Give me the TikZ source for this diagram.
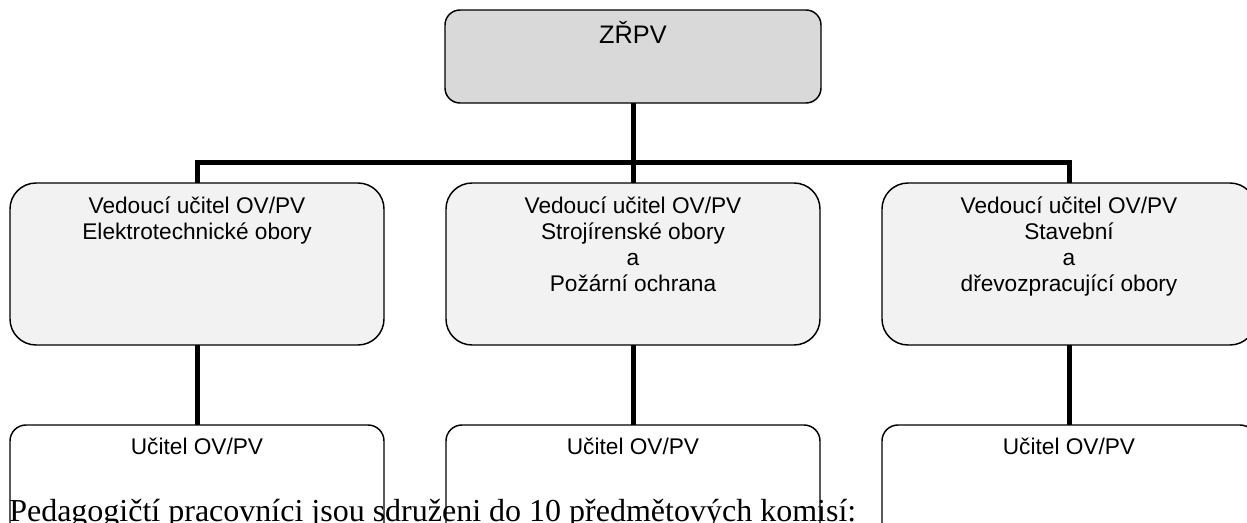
\documentclass[tikz,border=0pt]{standalone}
\usepackage{fontspec}
\setmainfont{Liberation Serif}
\setsansfont{Liberation Sans}
\begin{document}
\begin{tikzpicture}[x=0.75pt,y=-0.75pt,
  boxbase/.style={draw=black,line width=1.1pt,rectangle,inner sep=0pt,outer sep=0pt},
  topbox/.style={boxbase,fill=topgray,minimum width=282pt,minimum height=69.75pt,rounded corners=11.25pt},
  midbox/.style={boxbase,fill=midgray,minimum width=280.5pt,minimum height=121.5pt,rounded corners=19.5pt},
  botbox/.style={boxbase,fill=white,minimum width=280.5pt,minimum height=90pt,rounded corners=12pt},
  lbl/.style={anchor=base,inner sep=0pt,font=\sffamily\fontsize{17pt}{19.7pt}\selectfont},
  conn/.style={line width=3.75pt,black,line join=miter,line cap=rect}
]
\definecolor{topgray}{HTML}{D9D9D9}
\definecolor{midgray}{HTML}{F2F2F2}
\path[use as bounding box,clip] (0,0) rectangle (1247,522);
\fill[white] (0,0) rectangle (1247,522);

% boxes
\node[topbox] (top) at (633,56.5) {};
\node[midbox] (m1) at (197,264) {};
\node[midbox] (m2) at (633,264) {};
\node[midbox] (m3) at (1069,264) {};
\node[botbox] (b1) at (197,485) {};
\node[botbox] (b2) at (633,485) {};
\node[botbox] (b3) at (1069,485) {};
\coordinate (hub) at (633,162);

% connectors
\draw[conn,line cap=butt] (top.south) -- (m2.north);
\draw[conn,line cap=butt] (m1.north) |- (hub) -| (m3.north);
\draw[conn,line cap=butt] (m1.south) -- (b1.north);
\draw[conn,line cap=butt] (m2.south) -- (b2.north);
\draw[conn,line cap=butt] (m3.south) -- (b3.north);

% texts
\node[lbl,font=\sffamily\fontsize{19pt}{22pt}\selectfont] (ttop) at (633,43) {ZŘPV};
\node[lbl] (t1) at (197,213) {\begin{tabular}[t]{@{}c@{}}Vedoucí učitel OV/PV\\Elektrotechnické obory\end{tabular}};
\node[lbl] (t2) at (633,213) {\begin{tabular}[t]{@{}c@{}}Vedoucí učitel OV/PV\\Strojírenské obory\\a\\Požární ochrana\end{tabular}};
\node[lbl] (t3) at (1069,213) {\begin{tabular}[t]{@{}c@{}}Vedoucí učitel OV/PV\\Stavební\\a\\dřevozpracující obory\end{tabular}};
\node[lbl] (u1) at (197,454) {Učitel OV/PV};
\node[lbl] (u2) at (633,454) {Učitel OV/PV};
\node[lbl] (u3) at (1069,454) {Učitel OV/PV};
\node[anchor=base west,inner sep=0pt,font=\rmfamily\fontsize{24pt}{28pt}\selectfont] (para) at (9,521) {Pedagogičtí pracovníci jsou sdruženi do 10 předmětových komisí:};
\end{tikzpicture}
\end{document}
